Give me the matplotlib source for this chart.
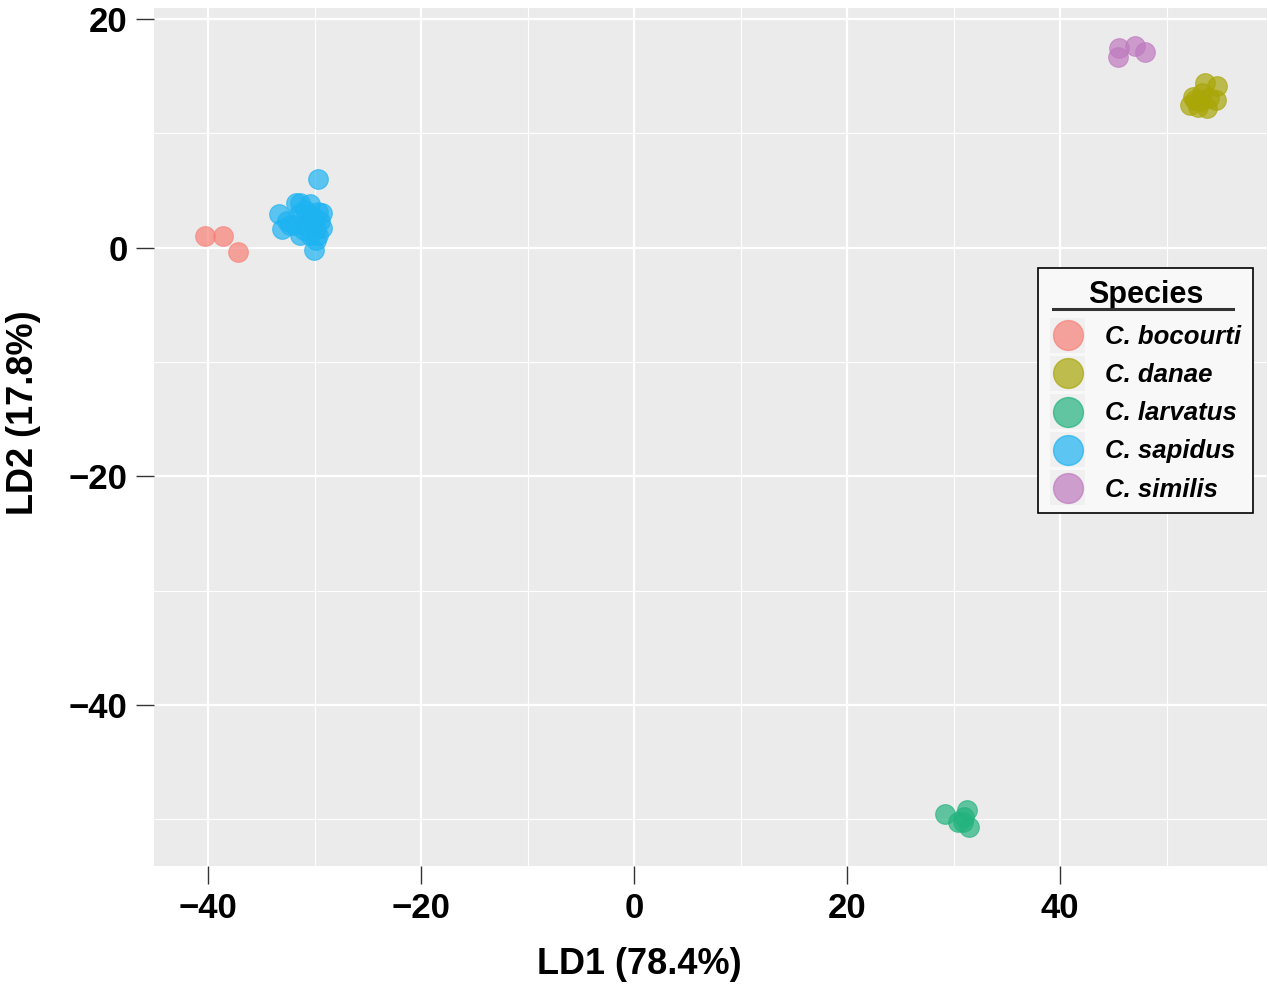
import numpy as np
import matplotlib
matplotlib.use("Agg")
import matplotlib.pyplot as plt
from matplotlib.lines import Line2D
from matplotlib.patches import Rectangle
from matplotlib.legend_handler import HandlerBase

# LDA scores (LD1, LD2)
species = ["C. bocourti", "C. danae", "C. larvatus", "C. sapidus", "C. similis"]
colors = ["#F88077", "#A9A608", "#23B37E", "#1DB3F2", "#BF7ABF"]

bocourti_x = [-40.3, -38.6, -37.2]
bocourti_y = [1.05, 1.05, -0.35]

danae_x = [53.6, 54.7, 52.5, 52.9, 53.8, 54.6, 52.2, 53.1, 53.3, 52.7, 54.0]
danae_y = [14.4, 14.1, 13.2, 12.3, 12.2, 12.9, 12.5, 12.8, 13.5, 12.9, 13.1]

larvatus_x = [29.2, 31.3, 30.9, 31.4, 30.4, 31.0]
larvatus_y = [-49.5, -49.2, -50.2, -50.7, -50.2, -49.8]

sapidus_x = [-29.7, -33.3, -33.1, -31.7, -31.4, -32.3, -30.9, -30.4, -30.2, -29.7,
             -29.3, -29.3, -30.1, -29.9, -30.4, -31.4, -31.8, -32.6, -30.9, -29.9,
             -29.7, -30.6, -31.5, -29.5, -31.0, -30.0]
sapidus_y = [6.0, 2.9, 1.6, 3.9, 3.9, 2.0, 3.3, 3.8, 2.6, 3.1,
             3.0, 1.75, -0.2, 0.7, 1.1, 1.1, 2.0, 2.3, 2.0, 1.6,
             1.1, 2.9, 2.9, 2.3, 1.5, 2.6]

similis_x = [45.5, 45.4, 47.0, 48.0]
similis_y = [17.5, 16.7, 17.6, 17.1]

xs = [bocourti_x, danae_x, larvatus_x, sapidus_x, similis_x]
ys = [bocourti_y, danae_y, larvatus_y, sapidus_y, similis_y]

xticks = [-40, -20, 0, 20, 40]
yticks = [-40, -20, 0, 20]


class KeyHandler(HandlerBase):
    # ggplot style key: light grey square with a translucent dot on top
    def create_artists(self, legend, orig_handle, xdescent, ydescent,
                       width, height, fontsize, trans):
        cx = width / 2 - xdescent
        cy = height / 2 - ydescent
        s = 25.2
        rect = Rectangle((cx - s / 2, cy - s / 2), s, s, facecolor="#F0F0F0",
                         edgecolor="none", transform=trans)
        dot = Line2D([cx], [cy], marker="o", linestyle="", markersize=21.5,
                     markerfacecolor=orig_handle, markeredgecolor=orig_handle,
                     alpha=0.7, transform=trans)
        return [rect, dot]


plt.rcParams["font.family"] = ["Liberation Sans", "DejaVu Sans"]

fig = plt.figure(figsize=(12.68, 9.94), dpi=100)
ax = fig.add_axes([0.1215, 0.1288, 0.8775, 0.8632])
ax.set_facecolor("#EBEBEB")

for x, y, c in zip(xs, ys, colors):
    ax.scatter(x, y, s=200, color=c, alpha=0.7, edgecolors=c, linewidths=0.8, zorder=3)

ax.set_xlim(-45.07, 59.4)
ax.set_ylim(-54.07, 20.96)
ax.set_xticks(xticks)
ax.set_yticks(yticks)
ax.set_xticklabels(["\u221240", "\u221220", "0", "20", "40"])
ax.set_yticklabels(["\u221240", "\u221220", "0", "20"])
ax.set_xticks([-30, -10, 10, 30, 50], minor=True)
ax.set_yticks([-50, -30, -10, 10], minor=True)
ax.grid(True, which="major", color="white", linewidth=1.6, zorder=0)
ax.grid(True, which="minor", color="white", linewidth=0.8, zorder=0)
ax.set_axisbelow(True)
for sp in ax.spines.values():
    sp.set_visible(False)
ax.tick_params(which="major", length=13, width=1.0, color="#333333",
               labelsize=25, pad=6)
ax.tick_params(which="minor", length=0)
for lab in ax.get_xticklabels() + ax.get_yticklabels():
    lab.set_fontweight("bold")

ax.set_xlabel("LD1 (78.4%)", fontsize=26, fontweight="bold")
ax.set_ylabel("LD2 (17.8%)", fontsize=26, fontweight="bold")
ax.xaxis.set_label_coords(0.436, -0.095)
ax.yaxis.set_label_coords(-0.102, 0.528)

leg = ax.legend(colors, species, loc="center", bbox_to_anchor=(0.891, 0.554),
                handler_map={str: KeyHandler()},
                prop={"size": 18.5, "weight": "bold", "style": "italic"},
                title="Species", title_fontproperties={"size": 22, "weight": "bold"},
                frameon=True, fancybox=False, edgecolor="black",
                facecolor="#F8F8F8", framealpha=1.0, borderpad=0.45,
                labelspacing=0.44, handlelength=1.4, handleheight=1.2,
                handletextpad=0.75, borderaxespad=0)
leg.get_frame().set_linewidth(1.2)
leg._legend_box.sep = 9

# underline below legend title
fig.canvas.draw()
bb = leg.get_window_extent()
tb = leg.get_title().get_window_extent()
inv = fig.transFigure.inverted()
x0, y0 = inv.transform((bb.x0 + 15, tb.y0 + 1))
x1, _ = inv.transform((bb.x1 - 20, tb.y0 + 1))
fig.add_artist(Line2D([x0, x1], [y0, y0], color="#333333", linewidth=2.2))

fig.savefig("out.png", dpi=100)
